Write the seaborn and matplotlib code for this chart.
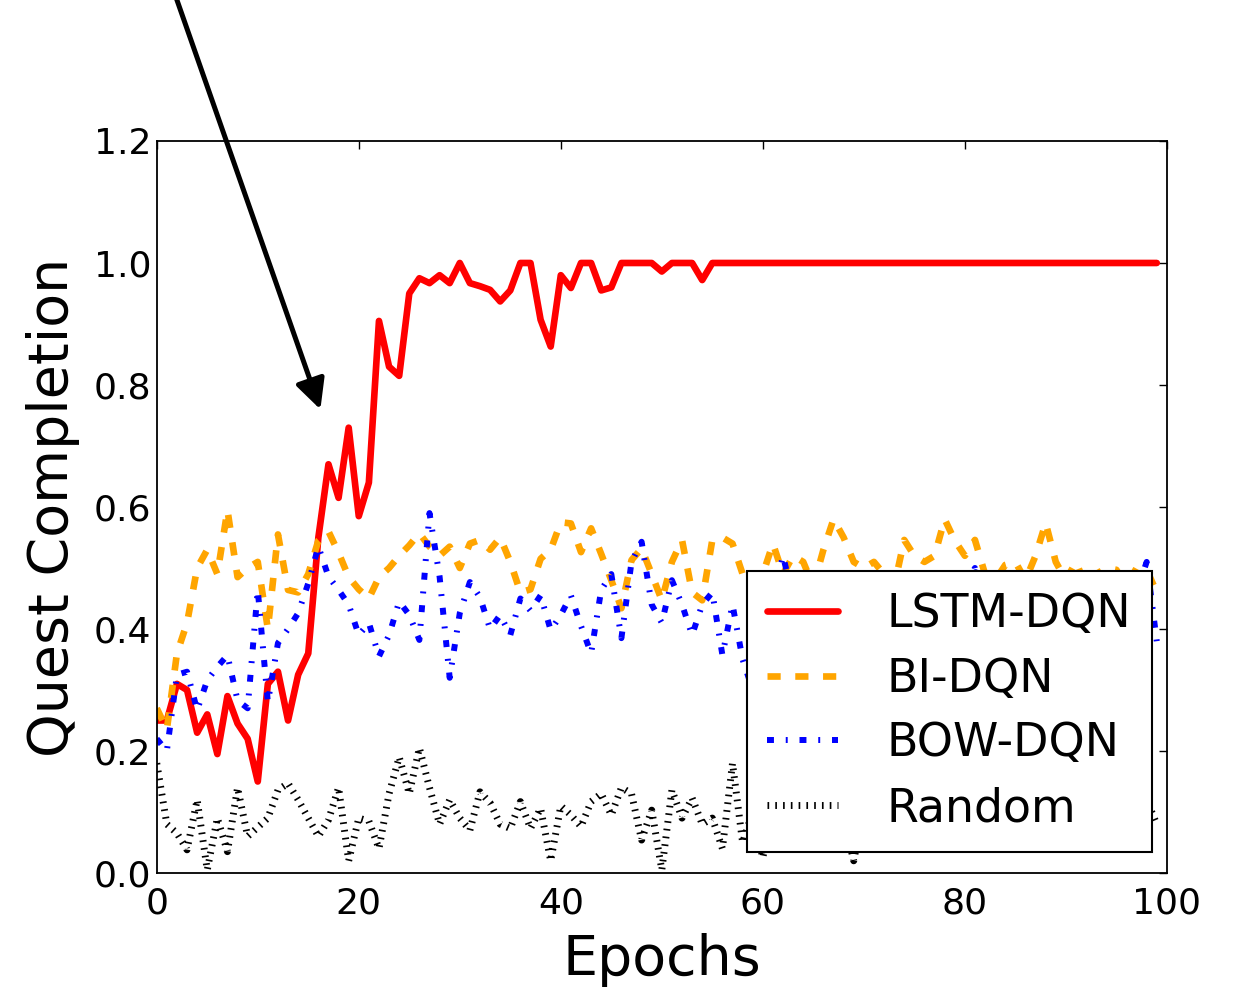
import numpy as np
import pandas as pd
import matplotlib
matplotlib.use("Agg")
import matplotlib.pyplot as plt
import seaborn as sns

# values, one per epoch (0..99)
epochs = np.arange(100)

lstm_dqn = [0.25, 0.25, 0.31, 0.30, 0.23, 0.26, 0.195, 0.29, 0.245, 0.22,
            0.15, 0.31, 0.33, 0.25, 0.325, 0.36, 0.55, 0.67, 0.615, 0.73,
            0.585, 0.64, 0.905, 0.83, 0.815, 0.95, 0.975, 0.967, 0.98, 0.967,
            1.0, 0.967, 0.962, 0.956, 0.937, 0.955, 1.0, 1.0, 0.907, 0.863,
            0.98, 0.959, 1.0, 1.0, 0.955, 0.96, 1.0, 1.0, 1.0, 1.0,
            0.986, 1.0, 1.0, 1.0, 0.972] + [1.0] * 45

bi_dqn = [0.27, 0.235, 0.36, 0.41, 0.50, 0.53, 0.49, 0.595, 0.485, 0.50,
          0.51, 0.40, 0.555, 0.464, 0.46, 0.49, 0.545, 0.56, 0.525, 0.485,
          0.465, 0.45, 0.485, 0.50, 0.52, 0.537, 0.557, 0.535, 0.52, 0.535,
          0.50, 0.54, 0.546, 0.53, 0.55, 0.51, 0.46, 0.465, 0.515, 0.53,
          0.575, 0.573, 0.526, 0.565, 0.523, 0.48, 0.434, 0.513, 0.532, 0.49,
          0.447, 0.51, 0.546, 0.46, 0.447, 0.546, 0.55, 0.54, 0.49, 0.47,
          0.49, 0.54, 0.49, 0.52, 0.51, 0.47, 0.53, 0.58, 0.55, 0.51,
          0.50, 0.51, 0.49, 0.47, 0.546, 0.52, 0.51, 0.52, 0.58, 0.545,
          0.52, 0.546, 0.49, 0.48, 0.505, 0.51, 0.48, 0.52, 0.574, 0.51,
          0.48, 0.51, 0.47, 0.49, 0.50, 0.497, 0.47, 0.50, 0.497, 0.46]

bow_dqn = [0.22, 0.20, 0.325, 0.33, 0.267, 0.316, 0.338, 0.357, 0.283, 0.27,
           0.464, 0.28, 0.377, 0.40, 0.426, 0.475, 0.535, 0.486, 0.464, 0.44,
           0.39, 0.41, 0.355, 0.39, 0.445, 0.423, 0.382, 0.59, 0.486, 0.32,
           0.426, 0.477, 0.452, 0.40, 0.423, 0.39, 0.45, 0.43, 0.455, 0.398,
           0.423, 0.455, 0.405, 0.36, 0.464, 0.49, 0.385, 0.51, 0.543, 0.44,
           0.41, 0.48, 0.44, 0.39, 0.44, 0.46, 0.357, 0.44, 0.35, 0.30,
           0.40, 0.45, 0.52, 0.45, 0.42, 0.40, 0.44, 0.42, 0.39, 0.43,
           0.41, 0.44, 0.40, 0.42, 0.45, 0.41, 0.43, 0.39, 0.42, 0.45,
           0.47, 0.50, 0.44, 0.41, 0.43, 0.40, 0.44, 0.42, 0.45, 0.43,
           0.46, 0.49, 0.44, 0.42, 0.45, 0.47, 0.495, 0.46, 0.51, 0.38]

random_agent = [0.18, 0.08, 0.065, 0.038, 0.12, 0.005, 0.09, 0.035, 0.14, 0.06,
                0.075, 0.09, 0.136, 0.147, 0.12, 0.09, 0.06, 0.087, 0.14, 0.02,
                0.09, 0.085, 0.04, 0.13, 0.19, 0.13, 0.205, 0.14, 0.08, 0.12,
                0.09, 0.07, 0.133, 0.115, 0.08, 0.073, 0.117, 0.073, 0.106, 0.02,
                0.11, 0.095, 0.076, 0.117, 0.13, 0.095, 0.14, 0.13, 0.054, 0.103,
                0.005, 0.136, 0.09, 0.123, 0.08, 0.09, 0.04, 0.18, 0.05, 0.10,
                0.025, 0.11, 0.08, 0.12, 0.06, 0.10, 0.13, 0.07, 0.09, 0.02,
                0.11, 0.08, 0.13, 0.06, 0.10, 0.09, 0.14, 0.07, 0.11, 0.05,
                0.12, 0.09, 0.10, 0.06, 0.13, 0.08, 0.11, 0.15, 0.07, 0.09,
                0.12, 0.06, 0.10, 0.08, 0.13, 0.09, 0.11, 0.07, 0.12, 0.08]

series = {
    'LSTM-DQN': (lstm_dqn, 'red', '-', 4.8),
    'BI-DQN': (bi_dqn, 'orange', (0, (9.5, 10.5)), 4.8),
    'BOW-DQN': (bow_dqn, 'blue', (0, (5, 8.5, 1.4, 8.5)), 4.3),
    'Random': (random_agent, 'black', (0, (1.2, 4.4)), 5.0),
}

sns.set_style("white")
plt.rcParams['font.family'] = ['DejaVu Sans']
plt.rcParams['lines.scale_dashes'] = False
plt.rcParams.update({'text.color': 'black', 'axes.labelcolor': 'black',
                     'xtick.color': 'black', 'ytick.color': 'black'})

fig = plt.figure(figsize=(12.44, 9.88), dpi=100)
ax = fig.add_axes([0.126, 0.1164, 0.812, 0.7409])

for name, (vals, col, ls, lw) in series.items():
    sns.lineplot(x=epochs, y=vals, color=col, linestyle=ls, lw=lw, label=name, ax=ax)

ax.set_xlim(0, 100)
ax.set_ylim(0, 1.2)
ax.set_xticks([0, 20, 40, 60, 80, 100])
ax.set_yticks([0.0, 0.2, 0.4, 0.6, 0.8, 1.0, 1.2])
ax.set_yticklabels(['%.1f' % t for t in ax.get_yticks()])
ax.tick_params(direction='in', top=True, right=True, length=6, width=1,
               labelsize=26, color='black', labelcolor='black')
ax.tick_params(axis='x', pad=10)
ax.tick_params(axis='y', pad=4)
for sp in ax.spines.values():
    sp.set_color('black')
    sp.set_linewidth(1.3)

ax.set_xlabel('Epochs', fontsize=40, labelpad=9, color='black')
ax.set_ylabel('Quest Completion', fontsize=40, labelpad=10, color='black')

leg = ax.legend(loc='lower right', bbox_to_anchor=(0.985, 0.029), borderaxespad=0,
                fontsize=33, fancybox=False, framealpha=1,
                edgecolor='black', handlelength=1.55, handletextpad=1.05,
                labelspacing=0.43, borderpad=0.45)
leg.get_frame().set_linewidth(1.5)
for t in leg.get_texts():
    t.set_color('black')

# arrow pointing at the jump of the LSTM-DQN curve
arrow_tail = (1.6, 1.45)
arrow_head = (16.2, 0.76)
ax.annotate('', xy=arrow_head, xytext=arrow_tail, annotation_clip=False,
            arrowprops=dict(arrowstyle='-|>,head_length=0.6,head_width=0.3',
                            mutation_scale=30, lw=3.6, color='black',
                            shrinkA=0, shrinkB=0))

fig.savefig('out.png', dpi=100)
